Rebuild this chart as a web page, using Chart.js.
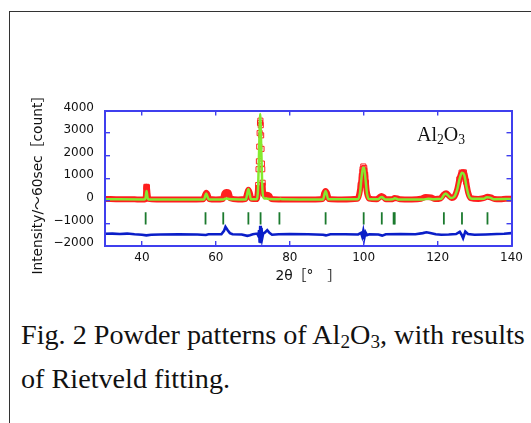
<!DOCTYPE html>
<html>
<head>
<meta charset="utf-8">
<script src="https://cdn.jsdelivr.net/npm/chart.js@4.4.0/dist/chart.umd.min.js"></script>
<style>
  html, body { margin: 0; padding: 0; background: #fff; }
  body { width: 531px; height: 423px; position: relative; overflow: hidden; }
  .frame { position: absolute; left: 9px; top: 11px; width: 540px; height: 430px;
           border-left: 1.5px solid #333; border-top: 1.5px solid #333; }
  .plot { position: absolute; left: 0; top: 0; width: 531px; height: 300px; }
  .phase { position: absolute; left: 417px; top: 123px; font-family: "Liberation Serif", serif;
           font-size: 20px; color: #111; }
  .caption { position: absolute; left: 21px; top: 314px; font-family: "Liberation Serif", serif;
             font-size: 28.2px; line-height: 41px; color: #111; white-space: nowrap; }
  sub { font-size: 0.68em; vertical-align: baseline; position: relative; top: 0.22em; }
</style>
</head>
<body>
<div class="frame"></div>
<div class="plot"><canvas id="xrd"></canvas></div>
<div class="phase">Al<sub>2</sub>O<sub>3</sub></div>
<div class="caption">Fig. 2 Powder patterns of Al<sub>2</sub>O<sub>3</sub>, with results<br>of Rietveld fitting.</div>
<script>
// observed intensity (red squares)
const obsAngle = [30, 33, 36, 38, 40.7, 41.0, 41.1, 41.2, 41.35, 41.5, 41.75, 44, 48, 52,
  56.6, 57.0, 57.4, 57.8, 58.2, 60, 61.9, 62.3, 62.9, 63.5, 63.9, 66,
  68.0, 68.4, 68.8, 69.2, 69.6, 71.0, 71.3, 71.45, 71.55, 71.65, 71.75, 71.85, 71.95, 72.05,
  72.15, 72.25, 72.35, 72.45, 72.55, 72.65, 72.8, 73.1, 73.8, 74.5, 75, 78, 82, 86,
  88.9, 89.3, 89.7, 90.1, 90.6, 94, 98.3, 98.8, 99.2, 99.5, 99.7, 99.9, 100.15, 100.4,
  100.6, 100.8, 101.1, 101.5, 103.5, 104.2, 104.8, 105.4, 106, 107.8, 108.4, 109.1, 109.8,
  113, 115.5, 116.8, 118.2, 119.3, 120.8, 121.6, 122.3, 123.0, 123.8, 124.6, 125.3, 125.9,
  126.5, 127.1, 127.7, 128.3, 129.0, 131, 132.6, 133.5, 134.4, 135.4, 137, 138.5, 140];
const obsCount = [80, 75, 70, 65, 60, 120, 330, 620, 600, 330, 90, 60, 60, 60,
  70, 230, 360, 260, 80, 60, 80, 330, 390, 370, 110, 60,
  80, 300, 490, 340, 90, 80, 300, 700, 1400, 1750, 2400, 3000, 3450, 3550,
  3350, 2900, 2300, 1650, 1400, 800, 350, 260, 270, 220, 80, 60, 60, 60,
  80, 330, 440, 330, 80, 60, 90, 300, 700, 1100, 1400, 1520, 1450, 1150,
  800, 450, 220, 100, 70, 150, 210, 160, 70, 70, 130, 110, 70,
  60, 90, 170, 150, 80, 110, 270, 340, 240, 130, 200, 500, 950,
  1250, 1260, 850, 350, 120, 80, 130, 180, 150, 80, 70, 90, 90];

// calculated pattern (green line)
const calcAngle = [30, 40.7, 41.0, 41.25, 41.5, 41.8, 56.8, 57.1, 57.4, 57.7, 58.1, 62, 62.5, 63.0, 63.5,
  68.1, 68.5, 68.8, 69.1, 69.5, 71.0, 71.4, 71.7, 72.0, 72.3, 72.6, 73.0, 73.6, 74.5,
  77.2, 77.5, 77.8, 89.0, 89.4, 89.7, 90.0, 90.4, 98.4, 99.0, 99.4, 99.8, 100.1, 100.5, 100.9, 101.4,
  104.0, 104.5, 104.9, 105.4, 105.9, 107.9, 108.4, 108.9, 109.4, 116, 117.5, 119,
  121.0, 121.7, 122.2, 122.8, 123.6, 124.5, 125.3, 126.0, 126.6, 127.2, 127.8, 128.5, 129.3,
  132.5, 133.3, 134.2, 135.2, 140];
const calcCount = [70, 60, 150, 430, 150, 60, 60, 200, 330, 200, 60, 60, 90, 100, 80,
  60, 330, 520, 330, 70, 70, 500, 2200, 3850, 2200, 500, 120, 100, 80,
  70, 90, 70, 60, 300, 440, 300, 70, 70, 350, 1000, 1460, 1460, 950, 320, 80,
  70, 150, 170, 110, 60, 70, 110, 90, 60, 60, 90, 70,
  90, 260, 330, 240, 120, 180, 500, 1000, 1240, 1150, 650, 200, 90,
  90, 160, 140, 70, 80];

// difference curve, plotted with its own offset (blue)
const diffAngle = [30, 32, 34, 36, 38, 40, 41.2, 42.5, 45, 50, 55, 57.3, 58, 61.5, 62.2, 62.6, 63.2, 63.8,
  64.5, 67, 68.5, 69.2, 70, 71.2, 71.5, 71.7, 71.85, 72.0, 72.15, 72.35, 72.55, 72.8, 73.3, 73.9,
  74.5, 75.2, 77, 80, 85, 89, 89.8, 91, 95, 98.5, 99.3, 99.6, 99.9, 100.2, 100.5, 100.9, 101.5,
  104, 105, 106, 110, 114, 116, 117, 118, 119.5, 121, 123, 125, 126, 126.5, 126.9, 127.5, 128.2,
  130, 133, 136, 138, 140];
const diffCount = [-1460, -1450, -1470, -1450, -1480, -1500, -1530, -1500, -1490, -1480, -1490, -1510, -1480,
  -1480, -1330, -1150, -1300, -1430, -1480, -1490, -1550, -1520, -1480, -1450, -1550, -1300, -1850,
  -1100, -1880, -1200, -1650, -1450, -1400, -1300, -1420, -1500, -1480, -1470, -1480, -1500, -1530,
  -1480, -1480, -1490, -1420, -1580, -1330, -1620, -1400, -1520, -1480, -1490, -1540, -1480, -1470,
  -1480, -1430, -1390, -1420, -1480, -1500, -1490, -1470, -1370, -1500, -1650, -1360, -1470,
  -1500, -1490, -1470, -1460, -1430];

// reflection positions (green bars)
const braggAngle = [41.0, 57.2, 62.0, 68.8, 72.1, 77.2, 89.7, 100.0, 104.9, 108.1, 108.4, 121.7, 126.6, 133.5];
const braggLevel = -775;

const xTicks = [40, 60, 80, 100, 120, 140];
const yTicks = [-2000, -1000, 0, 1000, 2000, 3000, 4000];
const xMin = 30, xMax = 140, yMin = -2000, yMax = 4000;

const axisBlue = '#3f3fee';
const obsRed = '#ff1e1e';
const numFont = { family: 'DejaVu Sans', size: 12 };
const titleFont = { family: "'DejaVu Sans', 'Noto Sans CJK JP'", size: 13.8 };

const pts = (xs, ys) => xs.map((x, i) => ({ x: x, y: ys[i] }));
const setTicks = vals => s => { s.ticks = vals.map(v => ({ value: v })); };
const fixSize = (w, h) => s => {
  if (w !== null) s.width = w;
  if (h !== null) s.height = h;
  s.paddingLeft = s.paddingRight = s.paddingTop = s.paddingBottom = 0;
};
// ticks point into the plot, drawn above the data like the frame
const sideGrid = () => ({
  display: true, drawOnChartArea: false, drawTicks: true, tickLength: -5,
  tickColor: axisBlue, tickWidth: 1.4, lineWidth: 1.4, color: axisBlue, z: 2
});
const axisLine = () => ({ display: true, color: axisBlue, width: 2, z: 3 });

new Chart(document.getElementById('xrd'), {
  type: 'scatter',
  data: {
    datasets: [
      {
        label: 'calc',
        data: pts(calcAngle, calcCount),
        showLine: true,
        borderColor: '#84ea2e',
        borderWidth: 2.5,
        pointRadius: 0,
        cubicInterpolationMode: 'monotone'
      },
      {
        label: 'obs',
        data: pts(obsAngle, obsCount),
        showLine: true,
        borderColor: obsRed,
        borderWidth: 6,
        cubicInterpolationMode: 'monotone',
        segment: {
          borderColor: c => (Math.abs(c.p1.y - c.p0.y) > 12 ||
            Math.min(c.p0.parsed.y, c.p1.parsed.y) > 1300) ? 'rgba(0,0,0,0)' : obsRed
        },
        pointStyle: 'rect',
        pointRadius: c => (c.raw && c.raw.y > 550) ? 3.6 : 0,
        pointBorderColor: obsRed,
        pointBorderWidth: 1,
        pointBackgroundColor: 'rgba(255,255,255,0)'
      },
      {
        label: 'diff',
        data: pts(diffAngle, diffCount),
        showLine: true,
        borderColor: '#0a1ec8',
        borderWidth: 2.6,
        pointRadius: 0
      },
      {
        label: 'bragg',
        data: braggAngle.map(x => ({ x: x, y: braggLevel })),
        showLine: false,
        pointStyle: 'line',
        rotation: 90,
        pointRadius: 6.2,
        pointBorderColor: '#1b7a2e',
        pointBorderWidth: 1.8
      }
    ]
  },
  options: {
    responsive: true,
    maintainAspectRatio: false,
    devicePixelRatio: 1,
    animation: false,
    events: [],
    layout: { padding: { left: 0, right: 18.5, top: 109.5, bottom: 11.2 } },
    plugins: { legend: { display: false }, tooltip: { enabled: false } },
    scales: {
      x: {
        type: 'linear', position: 'bottom', min: xMin, max: xMax,
        afterBuildTicks: setTicks(xTicks),
        afterFit: fixSize(null, 42.8),
        grid: sideGrid(),
        border: axisLine(),
        ticks: { font: numFont, color: '#111', padding: 10, maxRotation: 0 },
        title: { display: true, text: '2θ［°　］', font: titleFont, color: '#111', padding: { top: 0, bottom: 4 } }
      },
      x2: {
        type: 'linear', position: 'top', min: xMin, max: xMax, display: true,
        afterBuildTicks: setTicks(xTicks),
        afterFit: fixSize(null, 1),
        grid: sideGrid(),
        border: axisLine(),
        ticks: { display: false }
      },
      y: {
        type: 'linear', position: 'left', min: yMin, max: yMax,
        afterBuildTicks: setTicks(yTicks),
        afterFit: fixSize(105, null),
        grid: sideGrid(),
        border: axisLine(),
        ticks: {
          font: numFont, color: '#111', padding: 16, labelOffset: -3,
          callback: v => v < 0 ? '\u2212' + Math.abs(v) : String(v)
        },
        title: {
          display: true, text: 'Intensity/～60sec［count］\u3000', font: titleFont, color: '#111',
          padding: { top: 30, bottom: 0 }
        }
      },
      y2: {
        type: 'linear', position: 'right', min: yMin, max: yMax, display: true,
        afterBuildTicks: setTicks(yTicks),
        afterFit: fixSize(1, null),
        grid: sideGrid(),
        border: axisLine(),
        ticks: { display: false }
      }
    }
  }
});
</script>
</body>
</html>
